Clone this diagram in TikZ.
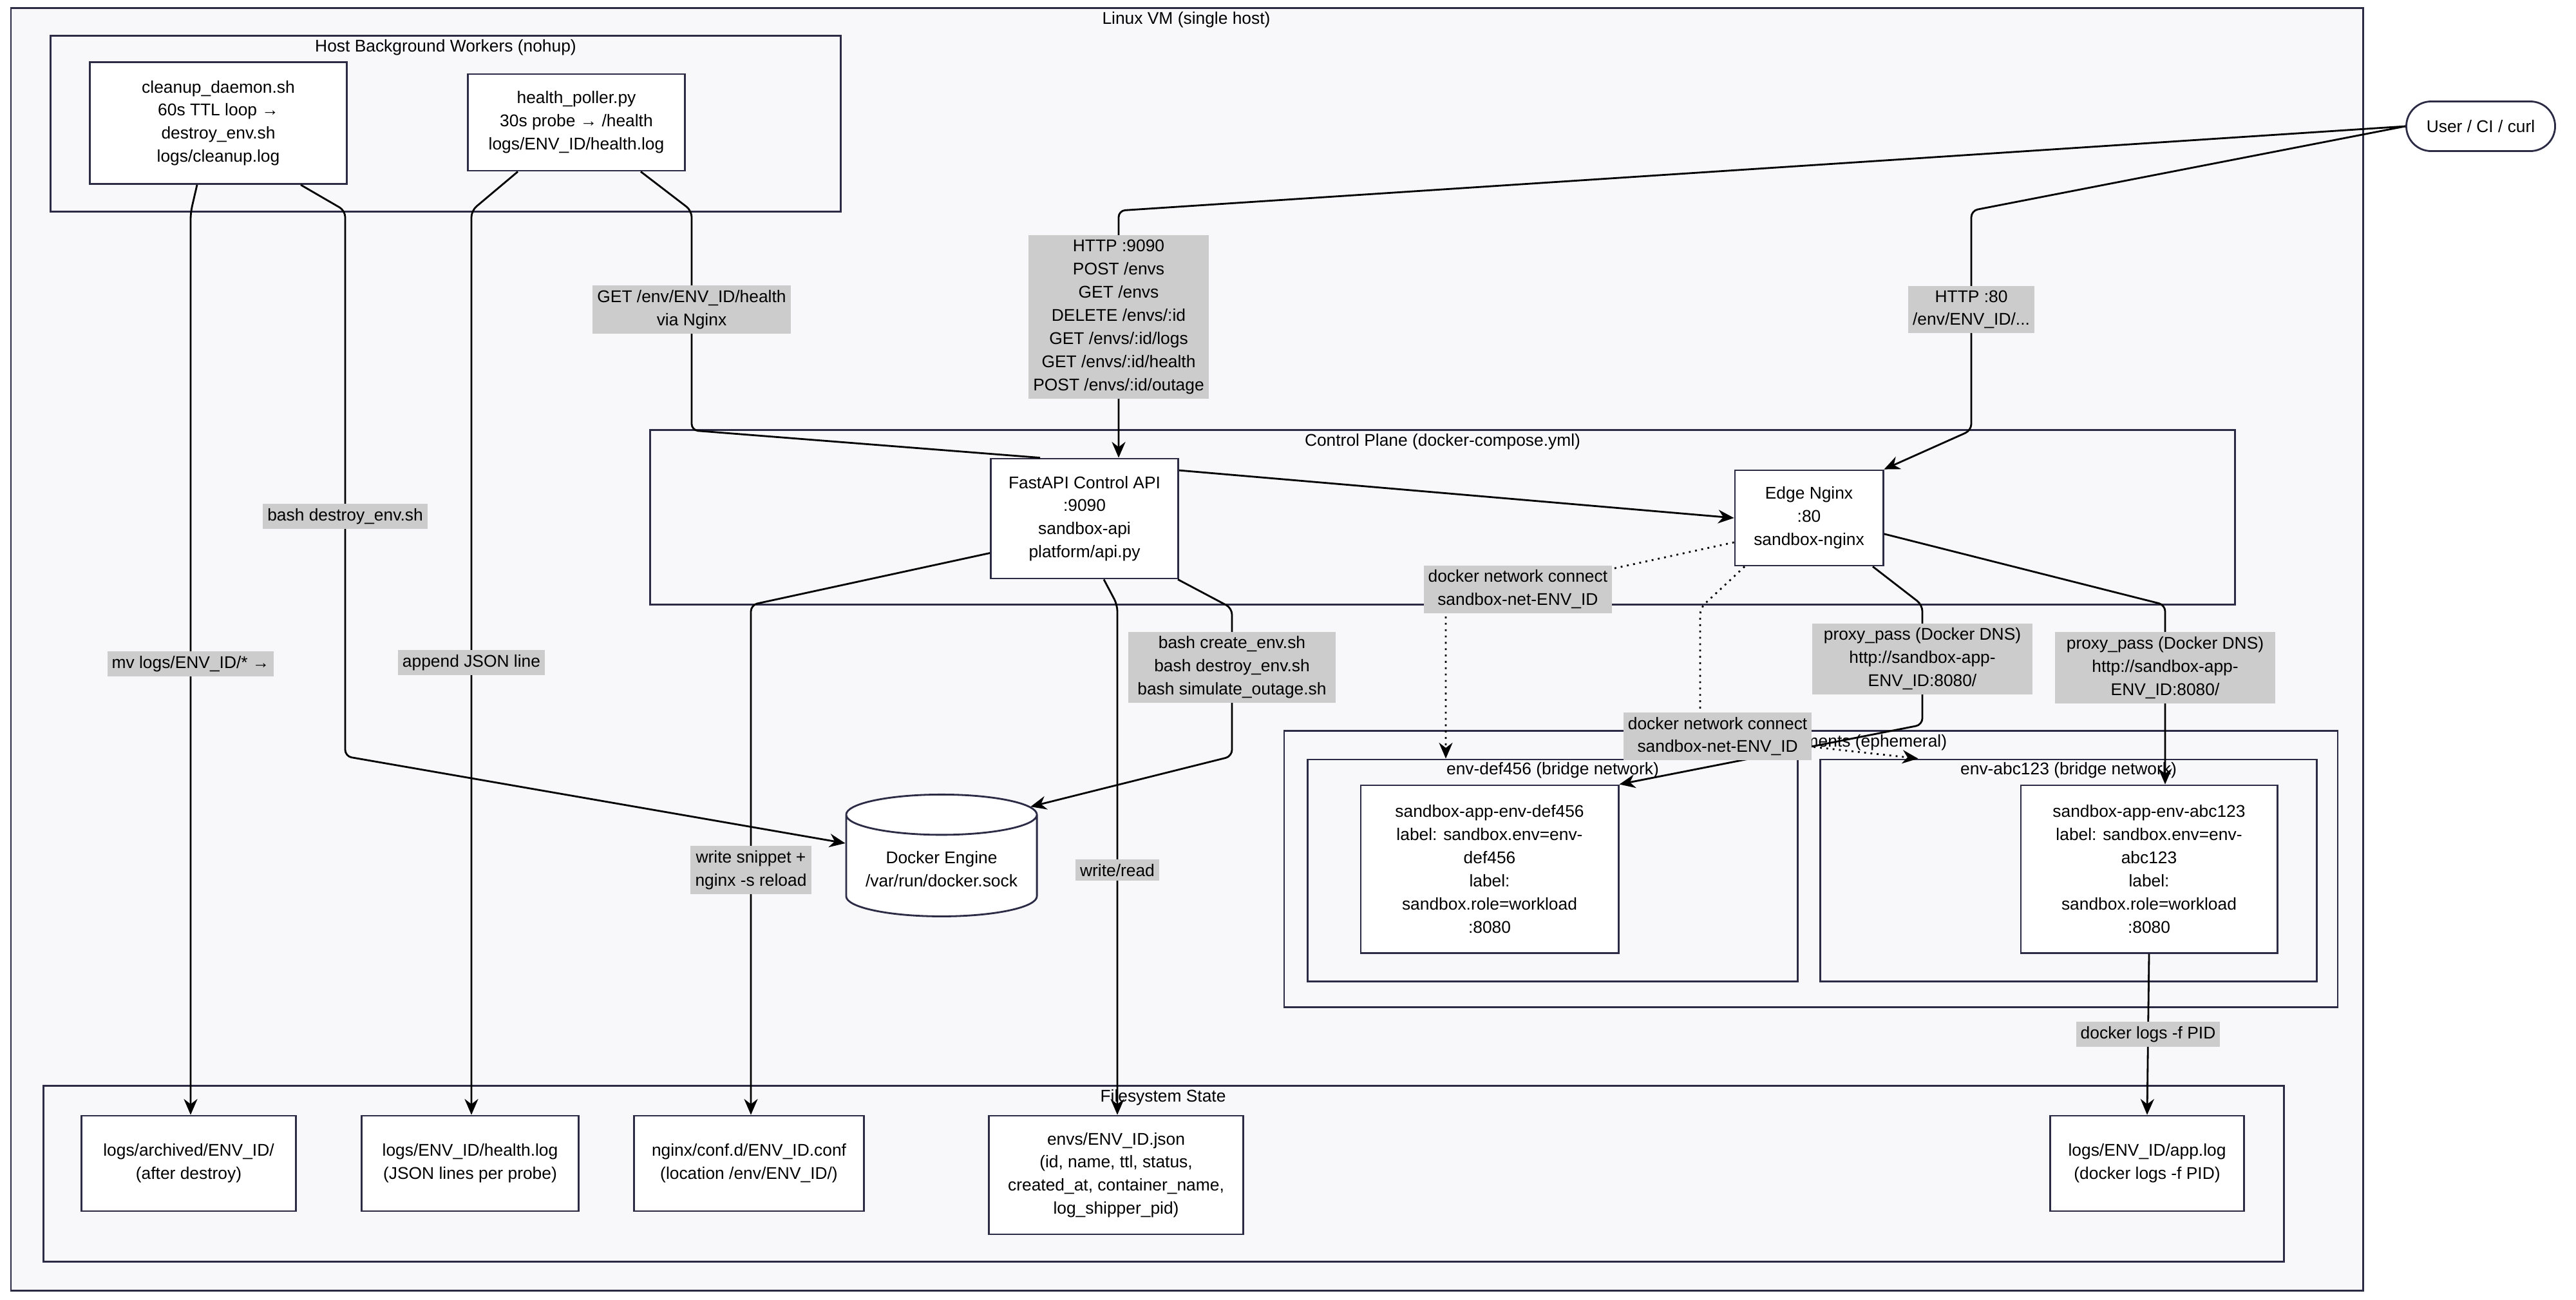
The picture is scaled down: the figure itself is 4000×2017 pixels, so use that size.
\documentclass[tikz,border=0pt]{standalone}
\usepackage{fontspec}
\setmainfont{Liberation Sans}
\usepackage{tikz}
\usetikzlibrary{arrows.meta,positioning,shapes.geometric,shapes.misc,calc}

\definecolor{ink}{HTML}{2B2B45}
\definecolor{clusterbg}{HTML}{F8F8FA}
\definecolor{labelbg}{HTML}{CCCCCC}

\begin{document}
\begin{tikzpicture}[x=0.01cm,y=-0.01cm,
  font=\fontsize{7.5}{10.2}\selectfont,
  box/.style={draw=ink,line width=0.8pt,fill=white,align=center,inner sep=2pt},
  cluster/.style={draw=ink,line width=0.8pt,fill=clusterbg,inner sep=0pt},
  title/.style={inner sep=1pt},
  elabel/.style={fill=labelbg,align=center,inner sep=2pt,sharp corners,solid},
  edge/.style={draw=black,line width=0.8pt,rounded corners=0.1cm},
  arr/.style={edge,-{Stealth[length=7pt,width=6pt]}},
  dotarr/.style={arr,dotted}]
\useasboundingbox[fill=white] (0,0) rectangle (4000,2017);

% Clusters
\node[cluster,minimum width=36.5cm,minimum height=19.9cm] (vm) at (1843,1008) {};
\node[title] (vmt) at (1842,31) {Linux VM (single host)};
\node[cluster,minimum width=12.27cm,minimum height=2.73cm] (workers) at (692,192) {};
\node[title] (workerst) at (692,74) {Host Background Workers (nohup)};
\node[cluster,minimum width=24.59cm,minimum height=2.71cm] (control) at (2240,803) {};
\node[title] (controlt) at (2240,686) {Control Plane (docker-compose.yml)};
\node[cluster,minimum width=16.35cm,minimum height=4.29cm] (ephem) at (2812,1349) {};
\node[title] (ephemt) at (2812,1153) {Sandbox Environments (ephemeral)};
\node[cluster,minimum width=7.6cm,minimum height=3.44cm] (defbox) at (2411,1351) {};
\node[title] (deft) at (2411,1196) {env-def456 (bridge network)};
\node[cluster,minimum width=7.7cm,minimum height=3.44cm] (abcbox) at (3212,1351) {};
\node[title] (abct) at (3212,1196) {env-abc123 (bridge network)};
\node[cluster,minimum width=34.77cm,minimum height=2.73cm] (fs) at (1807,1822) {};
\node[title] (fst) at (1806,1704) {Filesystem State};

% Nodes
\node[box,minimum width=3.98cm,minimum height=1.89cm] (cleanup) at (339,191)
  {cleanup\_daemon.sh\\60s TTL loop →\\destroy\_env.sh\\logs/cleanup.log};
\node[box,minimum width=3.37cm,minimum height=1.5cm] (poller) at (895,190)
  {health\_poller.py\\30s probe → /health\\logs/ENV\_ID/health.log};
\node[box,minimum width=2.91cm,minimum height=1.86cm] (fast) at (1684,805)
  {FastAPI Control API\\:9090\\sandbox-api\\platform/api.py};
\node[box,minimum width=2.3cm,minimum height=1.48cm] (nginx) at (2809,804)
  {Edge Nginx\\:80\\sandbox-nginx};
\node[box,cylinder,shape border rotate=90,aspect=0.25,minimum width=2.96cm,minimum height=1.89cm] (dock) at (1462,1349)
  {Docker Engine\\/var/run/docker.sock};
\node[box,minimum width=4cm,minimum height=2.6cm] (appdef) at (2313,1349)
  {sandbox-app-env-def456\\label: sandbox.env=env-\\def456\\label:\\sandbox.role=workload\\:8080};
\node[box,minimum width=3.98cm,minimum height=2.6cm] (appabc) at (3337,1349)
  {sandbox-app-env-abc123\\label: sandbox.env=env-\\abc123\\label:\\sandbox.role=workload\\:8080};
\node[box,minimum width=3.32cm,minimum height=1.48cm] (archived) at (293,1806)
  {logs/archived/ENV\_ID/\\(after destroy)};
\node[box,minimum width=3.37cm,minimum height=1.48cm] (hlog) at (730,1806)
  {logs/ENV\_ID/health.log\\(JSON lines per probe)};
\node[box,minimum width=3.57cm,minimum height=1.48cm] (conf) at (1163,1806)
  {nginx/conf.d/ENV\_ID.conf\\(location /env/ENV\_ID/)};
\node[box,minimum width=3.95cm,minimum height=1.84cm] (json) at (1733,1824)
  {envs/ENV\_ID.json\\(id, name, ttl, status,\\created\_at, container\_name,\\log\_shipper\_pid)};
\node[box,minimum width=3.01cm,minimum height=1.48cm] (applog) at (3334,1806)
  {logs/ENV\_ID/app.log\\(docker logs -f PID)};
\node[box,rounded rectangle,minimum width=2.45cm,minimum height=0.77cm] (user) at (3852,196)
  {User / CI / curl};

% Connectors
\draw[arr] (user.west) -- (1737,327) -- node[elabel,pos=0.43]
  {HTTP :9090\\POST /envs\\GET /envs\\DELETE /envs/:id\\GET /envs/:id/logs\\GET /envs/:id/health\\POST /envs/:id/outage}
  (1737,0 |- fast.north);
\draw[arr] (user.west) -- (3061,327) -- node[elabel,pos=0.45] {HTTP :80\\/env/ENV\_ID/...}
  (3061,668) -- (nginx.north east);
\draw[edge] (995,0 |- poller.south) -- (1074,327) -- node[elabel,pos=0.45] {GET /env/ENV\_ID/health\\via Nginx}
  (1074,668) -- (1615,0 |- fast.north);
\draw[arr] (fast.27) -- (nginx.west);
\draw[arr] (467,0 |- cleanup.south) -- (536,327) -- node[elabel,pos=0.56] {bash destroy\_env.sh}
  (536,1174) -- (dock.165);
\draw[arr] (306,0 |- cleanup.south) -- (296,330) -- node[elabel] {mv logs/ENV\_ID/* →}
  (296,0 |- archived.north);
\draw[arr] (804,0 |- poller.south) -- (732,327) -- node[elabel] {append JSON line}
  (732,0 |- hlog.north);
\draw[arr] (1829,0 |- fast.south) -- (1913,944) -- node[elabel,pos=0.4,inner xsep=4pt]
  {bash create\_env.sh\\bash destroy\_env.sh\\bash simulate\_outage.sh}
  (1913,1174) -- (dock.35);
\draw[arr] (fast.200) -- (1166,939) -- node[elabel,pos=0.52] {write snippet +\\nginx -s reload}
  (1166,0 |- conf.north);
\draw[arr] (1714,0 |- fast.south) -- (1735,939) -- node[elabel,pos=0.52] {write/read}
  (1735,0 |- json.north);
\draw[dotarr] (nginx.198) -- node[elabel,pos=0.75] {docker network connect\\sandbox-net-ENV\_ID}
  (2245,939) -- (2245,0 |- defbox.north);
\draw[arr] (2908,0 |- nginx.south) -- (2985,939) -- node[elabel,pos=0.45,inner xsep=5pt]
  {proxy\_pass (Docker DNS)\\http://sandbox-app-\\ENV\_ID:8080/}
  (2985,1125) -- (appdef.north east);
\draw[arr] (nginx.-12) -- (3362,939) -- node[elabel,pos=0.35,inner xsep=5pt]
  {proxy\_pass (Docker DNS)\\http://sandbox-app-\\ENV\_ID:8080/}
  (3362,0 |- appabc.north);
\draw[dotarr] (2709,0 |- nginx.south) -- (2640,944) -- (2640,1140) --
  node[elabel,pos=0.08] {docker network connect\\sandbox-net-ENV\_ID}
  ([xshift=1.53cm]abcbox.north west);
\draw[arr] (appabc.south) -- node[elabel] {docker logs -f PID} (applog.north);
\end{tikzpicture}
\end{document}
